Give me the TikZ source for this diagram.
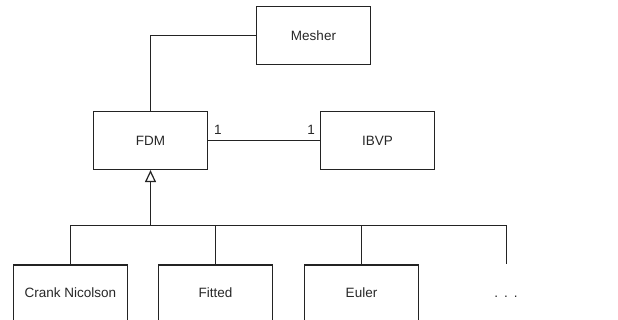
\documentclass[tikz,border=0pt]{standalone}
\usepackage{fontspec}
\setmainfont{Liberation Sans}
\usetikzlibrary{arrows.meta}
\definecolor{linec}{RGB}{35,35,35}
\definecolor{txtc}{RGB}{40,40,40}
\begin{document}
\begin{tikzpicture}[x=1pt,y=-1pt,line width=1.2pt,
  box/.style={draw=linec, minimum width=114pt, minimum height=58pt, inner sep=0pt,
    font=\fontsize{13.5}{16}\selectfont, text=txtc},
  openbox/.style={box, anchor=north, minimum height=72pt, text height=9.5pt, text depth=16pt},
  conn/.style={draw=linec},
  mult/.style={font=\fontsize{13.5}{16}\selectfont, text=txtc, inner sep=0pt},
  inherit/.style={conn, -{Triangle[open, length=12pt, width=11pt, line width=1.2pt]}}]
\useasboundingbox (0,0) rectangle (618,320);
\clip (0,0) rectangle (618,320);
\fill[white] (0,0) rectangle (618,320);

\node[box] (mesher) at (313.5,35.5) {Mesher};
\node[box] (fdm) at (150.5,140.5) {FDM};
\node[box] (ibvp) at (377.5,140.5) {IBVP};

\node[openbox] (cn) at (70.5,264.5) {Crank Nicolson};
\node[openbox] (fitted) at (215.5,264.5) {Fitted};
\node[openbox] (euler) at (361.5,264.5) {Euler};
\node[mult] (dots) at (506,297) {.\hspace{6pt}.\hspace{6pt}.};

\coordinate (busR) at (506.5,225.5);
\coordinate (endR) at (506.5,264.5);

\draw[conn] (mesher.west) -| (fdm.north);
\draw[conn] (fdm.east) -- (ibvp.west);
\node[mult] (m1) at (218,130) {1};
\node[mult] (m2) at (311,130) {1};

\draw[conn] (cn.north) |- (busR) -- (endR);
\draw[conn] (fitted.north) -- (fitted.north |- busR);
\draw[conn] (euler.north) -- (euler.north |- busR);
\draw[inherit] (fdm.south |- busR) -- (fdm.south);
\end{tikzpicture}
\end{document}
